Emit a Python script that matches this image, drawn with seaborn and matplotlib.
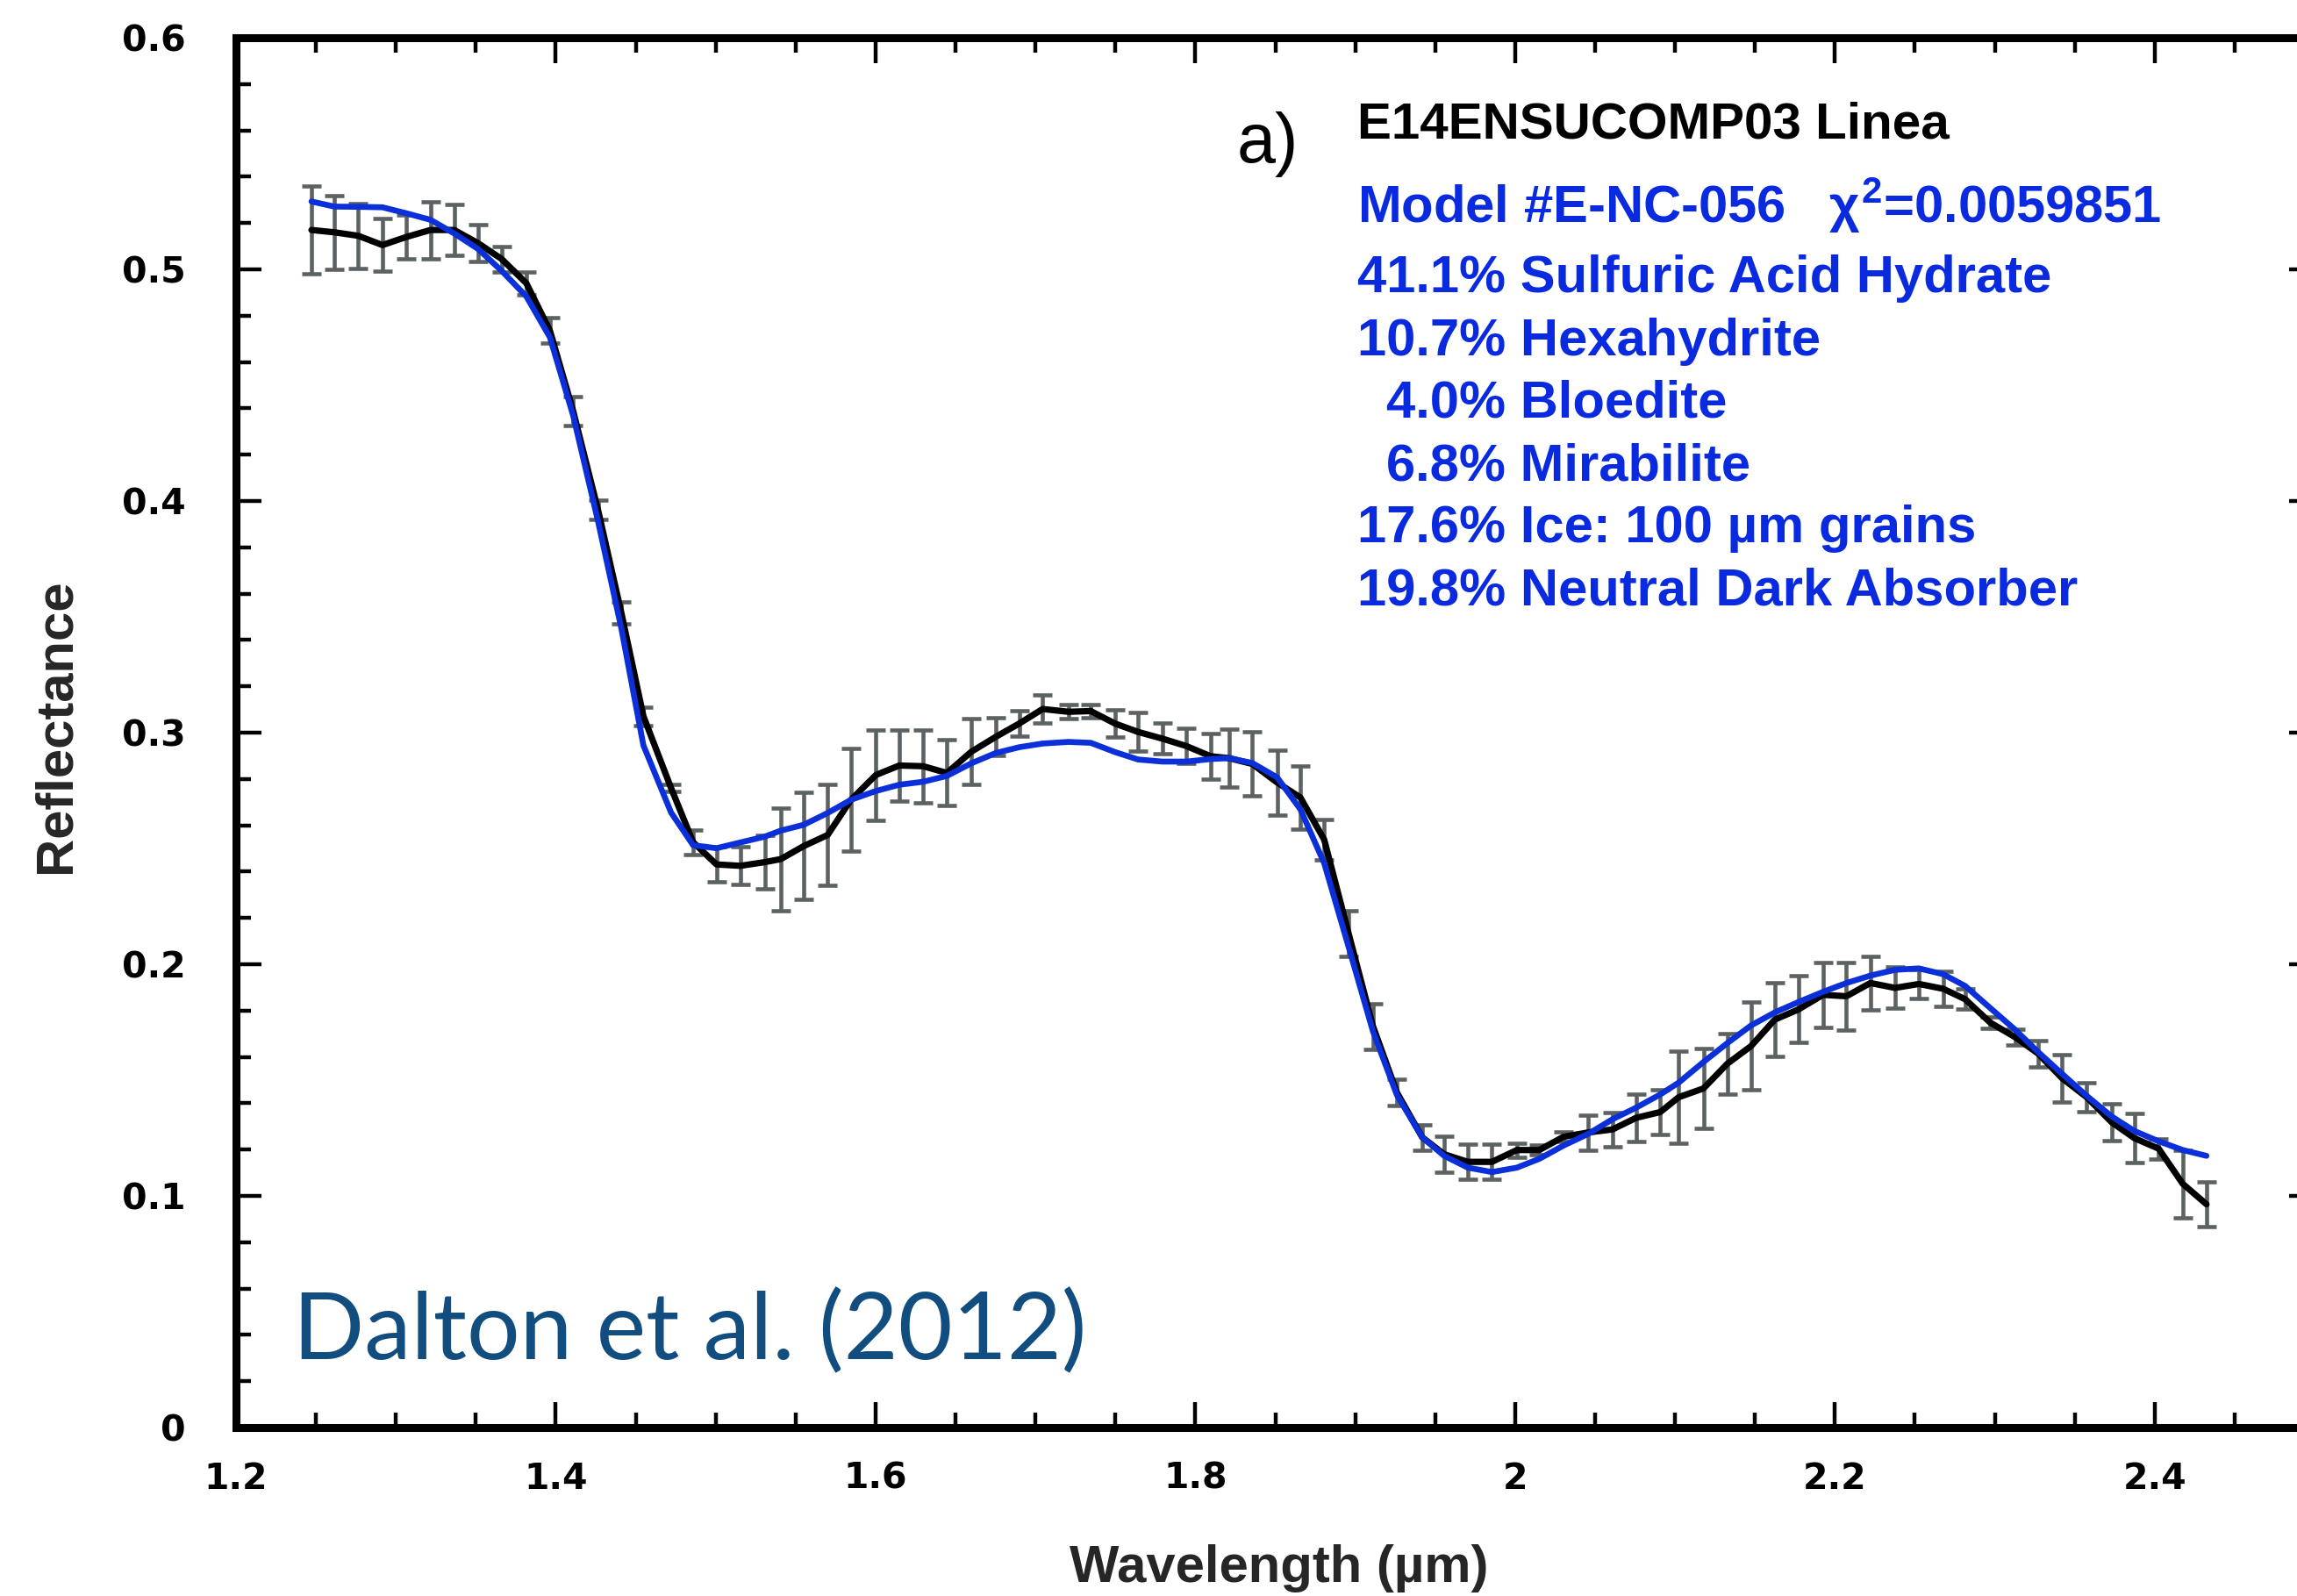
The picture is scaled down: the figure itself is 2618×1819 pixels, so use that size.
import numpy as np
import pandas as pd
import matplotlib
matplotlib.use("Agg")
import matplotlib.pyplot as plt
from matplotlib.ticker import MultipleLocator, FuncFormatter
import seaborn as sns

# ---------------- data ----------------
wavelength = [1.2472, 1.2615, 1.2764, 1.2916, 1.3066, 1.3216, 1.3365, 1.3514, 1.3661, 1.3816,
              1.3963, 1.4109, 1.4264, 1.4410, 1.4548, 1.4721, 1.4859, 1.5005, 1.5155, 1.5307,
              1.5407, 1.5550, 1.5700, 1.5846, 1.6002, 1.6148, 1.6298, 1.6446, 1.6600, 1.6752,
              1.6898, 1.7045, 1.7207, 1.7346, 1.7498, 1.7642, 1.7794, 1.7944, 1.8096, 1.8210,
              1.8356, 1.8511, 1.8657, 1.8806, 1.8959, 1.9111, 1.9261, 1.9419, 1.9556, 1.9704,
              1.9855, 2.0011, 2.0151, 2.0302, 2.0458, 2.0609, 2.0757, 2.0908, 2.1023, 2.1178,
              2.1328, 2.1476, 2.1624, 2.1772, 2.1926, 2.2072, 2.2222, 2.2376, 2.2526, 2.2678,
              2.2815, 2.2972, 2.3128, 2.3270, 2.3421, 2.3575, 2.3731, 2.3874, 2.4025, 2.4176,
              2.4324]

observed = [0.517, 0.516, 0.5145, 0.5105, 0.514, 0.517, 0.517, 0.5113, 0.5045, 0.494,
            0.4736, 0.4387, 0.3962, 0.3517, 0.3071, 0.2761, 0.2527, 0.2431, 0.2425, 0.2441,
            0.2454, 0.251, 0.2558, 0.271, 0.2817, 0.2858, 0.2855, 0.2826, 0.2918, 0.2982,
            0.3039, 0.3102, 0.309, 0.3093, 0.3039, 0.3003, 0.2974, 0.2942, 0.2898, 0.289,
            0.2865, 0.2785, 0.272, 0.2538, 0.2132, 0.1732, 0.1446, 0.1253, 0.118, 0.1147,
            0.1147, 0.1198, 0.1198, 0.1255, 0.1274, 0.1287, 0.1337, 0.1362, 0.1426, 0.1464,
            0.1571, 0.1647, 0.1761, 0.1805, 0.1868, 0.1862, 0.1919, 0.1898, 0.1915, 0.1894,
            0.1849, 0.1748, 0.1685, 0.1615, 0.1508, 0.1426, 0.1318, 0.1249, 0.1204, 0.1052,
            0.0964]

uncertainty = [0.019, 0.016, 0.014, 0.0114, 0.0095, 0.0123, 0.011, 0.008, 0.0055, 0.005,
               0.0055, 0.0063, 0.004, 0.0046, 0.004, 0.0016, 0.0054, 0.0076, 0.0082, 0.0116,
               0.0222, 0.0231, 0.0218, 0.0222, 0.0196, 0.0155, 0.0158, 0.0142, 0.0142, 0.0082,
               0.0054, 0.006, 0.003, 0.003, 0.0058, 0.0084, 0.0066, 0.0076, 0.0099, 0.0124,
               0.0137, 0.014, 0.0136, 0.0088, 0.0099, 0.0098, 0.0057, 0.0055, 0.0076, 0.0076,
               0.0076, 0.003, 0.002, 0.002, 0.0076, 0.0073, 0.0104, 0.0095, 0.0199, 0.0174,
               0.0131, 0.019, 0.0158, 0.0144, 0.014, 0.0146, 0.0115, 0.0089, 0.0063, 0.0076,
               0.0044, 0.0025, 0.0035, 0.0057, 0.0102, 0.0064, 0.0079, 0.0106, 0.0044, 0.0145,
               0.0095]

model = [0.5293, 0.5271, 0.527, 0.5268, 0.5242, 0.5214, 0.5155, 0.5088, 0.4994, 0.4883,
         0.4707, 0.4368, 0.3913, 0.345, 0.2945, 0.2655, 0.2514, 0.2501, 0.2526, 0.2551,
         0.2577, 0.2602, 0.2653, 0.271, 0.2748, 0.2775, 0.2788, 0.2813, 0.2868, 0.2912,
         0.2937, 0.2953, 0.296, 0.2956, 0.2916, 0.2884, 0.2875, 0.2875, 0.2886, 0.289,
         0.2869, 0.2807, 0.2669, 0.2436, 0.2074, 0.171, 0.1435, 0.1253, 0.1173, 0.1122,
         0.1103, 0.1122, 0.116, 0.1217, 0.1268, 0.1331, 0.1381, 0.1438, 0.1489, 0.1578,
         0.166, 0.1736, 0.1792, 0.1837, 0.1881, 0.1919, 0.1951, 0.1976, 0.1982, 0.1957,
         0.1906, 0.1811, 0.1717, 0.1622, 0.1527, 0.1432, 0.1343, 0.128, 0.1236, 0.1198,
         0.1173]

x_ticks = [1.2, 1.4, 1.6, 1.8, 2.0, 2.2, 2.4]
y_ticks = [0.0, 0.1, 0.2, 0.3, 0.4, 0.5, 0.6]

title_line = "E14ENSUCOMP03 Linea"
model_line = r"Model #E-NC-056   $\chi^{2}$=0.0059851"
components = [("41.1%", "Sulfuric Acid Hydrate"),
              ("10.7%", "Hexahydrite"),
              ("4.0%", "Bloedite"),
              ("6.8%", "Mirabilite"),
              ("17.6%", "Ice: 100 \u00b5m grains"),
              ("19.8%", "Neutral Dark Absorber")]
panel_label = "a)"
credit = "Dalton et al. (2012)"

df = pd.DataFrame({"wavelength": wavelength, "observed": observed,
                   "uncertainty": uncertainty, "model": model})

# ---------------- style ----------------
sns.set_style("ticks")
plt.rcParams["font.family"] = ["Liberation Sans", "DejaVu Sans"]
plt.rcParams["mathtext.fontset"] = "custom"
plt.rcParams["mathtext.rm"] = "Liberation Sans:bold"
plt.rcParams["mathtext.it"] = "Liberation Sans:bold"
plt.rcParams["mathtext.bf"] = "Liberation Sans:bold"

W, H = 2618, 1819
fig = plt.figure(figsize=(W / 100, H / 100), dpi=100)
fig.patch.set_facecolor("white")

# axes box in pixels: left 269, right 2638 (beyond crop), top 43, bottom 1627
L, R, T, B = 269, 2638, 43, 1627
ax = fig.add_axes([L / W, 1 - B / H, (R - L) / W, (B - T) / H])
ax.set_facecolor("white")

err_color = "#5c6263"
blue = "#0b2fd8"
text_blue = "#0a2ae0"

ax.errorbar(df["wavelength"], df["observed"], yerr=df["uncertainty"], fmt="none",
            ecolor=err_color, elinewidth=3.3, capsize=8, capthick=3.3, zorder=2)
sns.lineplot(data=df, x="wavelength", y="observed", color="black", linewidth=5.2,
             sort=False, estimator=None, ax=ax, zorder=3)
sns.lineplot(data=df, x="wavelength", y="model", color=blue, linewidth=4.8,
             sort=False, estimator=None, ax=ax, zorder=4)

ax.set_xlim(1.2, 2.5)
ax.set_ylim(0, 0.6)
ax.set_xticks(x_ticks)
ax.set_yticks(y_ticks)
ax.xaxis.set_minor_locator(MultipleLocator(0.05))
ax.yaxis.set_minor_locator(MultipleLocator(0.02))
ax.xaxis.set_major_formatter(FuncFormatter(lambda v, p: f"{v:g}"))
ax.yaxis.set_major_formatter(FuncFormatter(lambda v, p: "0" if abs(v) < 1e-9 else f"{v:.1f}"))

for s in ax.spines.values():
    s.set_visible(True)
    s.set_linewidth(6.5)
    s.set_color("black")

ax.tick_params(which="both", direction="in", top=True, right=True, colors="black")
ax.tick_params(which="major", length=21, width=3.2)
ax.tick_params(which="minor", length=12, width=3.2)
ax.tick_params(axis="y", which="major", pad=41)
ax.tick_params(axis="x", which="major", pad=28)
for lab in ax.get_xticklabels() + ax.get_yticklabels():
    lab.set_fontfamily("DejaVu Sans")
    lab.set_fontweight("bold")
    lab.set_fontsize(29.5)

ax.set_xlabel("Wavelength (\u00b5m)", fontsize=43, fontweight="bold")
ax.set_ylabel("Reflectance", fontsize=43, fontweight="bold")
ax.xaxis.set_label_coords((1458 - L) / (R - L), (B - 1803) / (B - T))
ax.xaxis.label.set_verticalalignment("baseline")
ax.yaxis.set_label_coords((64 - L) / (R - L), (B - 827) / (B - T))
ax.yaxis.label.set_verticalalignment("center")


def px(x, y):
    return x / W, 1 - y / H


# panel label and legend block
fig.text(*px(1410, 185), panel_label, fontsize=57, color="black", va="baseline", ha="left")
fig.text(*px(1547, 158), title_line, fontsize=42, fontweight="bold", color="black",
         va="baseline", ha="left")
fig.text(*px(1547, 254), model_line, fontsize=43, fontweight="bold", color=text_blue,
         va="baseline", ha="left")
baselines = [333, 405, 476, 547, 618, 689]
for (pct, name), yb in zip(components, baselines):
    indent = 33 if len(pct) == 4 else 0
    fig.text(*px(1547 + indent, yb), f"{pct} {name}", fontsize=43, fontweight="bold",
             color=text_blue, va="baseline", ha="left")

fig.text(*px(334, 1549), credit, fontsize=77, color="#114d7e", va="baseline", ha="left",
         family=["Lato", "DejaVu Sans"], fontweight="normal")

fig.savefig("out.png", dpi=100, facecolor="white")
